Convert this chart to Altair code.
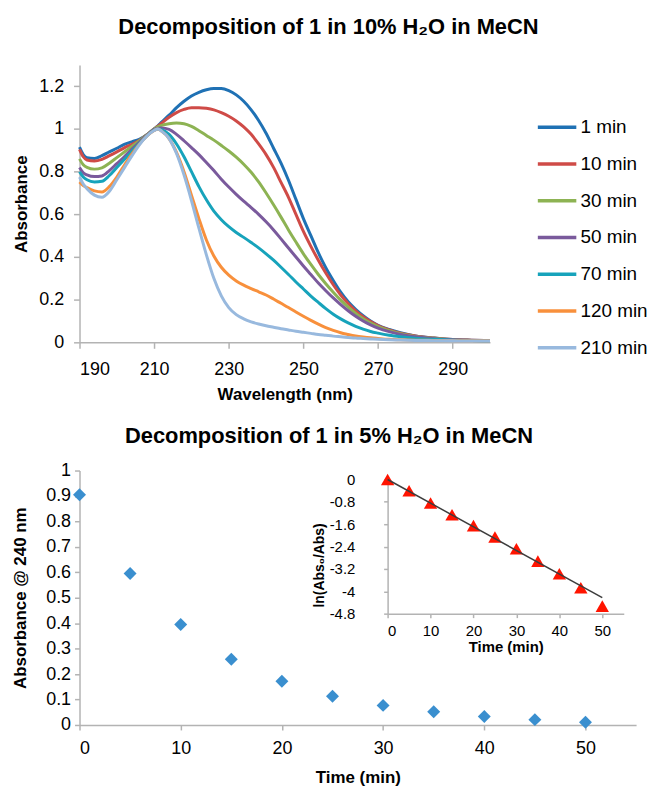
import altair as alt
import pandas as pd

FONT = "Liberation Sans"

wavelength = [190, 191, 192, 194, 196, 198, 200, 202, 204, 206, 208, 210, 211, 212, 214, 216, 218, 220,
              222, 224, 226, 228, 230, 232, 234, 236, 238, 240, 242, 244, 246, 248, 250, 252, 254, 256,
              258, 260, 262, 264, 266, 268, 270, 273, 276, 280, 285, 290, 295, 300]

abs_1min = [0.915, 0.88, 0.865, 0.862, 0.875, 0.893, 0.91, 0.928, 0.94, 0.952, 0.972, 1.0, 1.015, 1.032,
            1.065, 1.1, 1.13, 1.155, 1.172, 1.184, 1.19, 1.19, 1.18, 1.16, 1.13, 1.09, 1.04, 0.98, 0.91,
            0.84, 0.76, 0.67, 0.58, 0.5, 0.42, 0.35, 0.29, 0.235, 0.19, 0.155, 0.125, 0.1, 0.08, 0.06,
            0.045, 0.03, 0.02, 0.013, 0.01, 0.008]
abs_10min = [0.905, 0.87, 0.855, 0.85, 0.858, 0.875, 0.893, 0.912, 0.928, 0.946, 0.972, 1.0, 1.013, 1.027,
             1.055, 1.077, 1.092, 1.1, 1.1, 1.097, 1.09, 1.077, 1.06, 1.038, 1.01, 0.975, 0.93, 0.88,
             0.82, 0.75, 0.68, 0.6, 0.52, 0.45, 0.385, 0.325, 0.27, 0.222, 0.182, 0.148, 0.12, 0.097,
             0.078, 0.058, 0.043, 0.03, 0.02, 0.013, 0.01, 0.008]
abs_30min = [0.86, 0.832, 0.82, 0.812, 0.818, 0.84, 0.866, 0.892, 0.918, 0.944, 0.972, 1.0, 1.01, 1.017,
             1.025, 1.028, 1.025, 1.012, 0.992, 0.97, 0.948, 0.923, 0.897, 0.868, 0.835, 0.797, 0.752,
             0.7, 0.645, 0.587, 0.527, 0.47, 0.415, 0.365, 0.318, 0.275, 0.235, 0.198, 0.165, 0.136,
             0.111, 0.09, 0.074, 0.055, 0.041, 0.028, 0.019, 0.012, 0.009, 0.007]
abs_50min = [0.82, 0.795, 0.785, 0.777, 0.78, 0.805, 0.838, 0.87, 0.905, 0.938, 0.97, 0.998, 1.004, 1.005,
             0.998, 0.975, 0.945, 0.913, 0.88, 0.843, 0.805, 0.765, 0.728, 0.694, 0.662, 0.632, 0.6,
             0.565, 0.527, 0.485, 0.442, 0.4, 0.358, 0.318, 0.278, 0.242, 0.208, 0.177, 0.148, 0.122,
             0.1, 0.082, 0.067, 0.05, 0.037, 0.026, 0.017, 0.012, 0.009, 0.007]
abs_70min = [0.8, 0.775, 0.762, 0.752, 0.755, 0.782, 0.82, 0.857, 0.895, 0.932, 0.967, 0.995, 1.0, 0.997,
             0.975, 0.93, 0.87, 0.8, 0.73, 0.668, 0.615, 0.575, 0.542, 0.515, 0.492, 0.468, 0.443, 0.415,
             0.385, 0.352, 0.318, 0.283, 0.25, 0.217, 0.187, 0.158, 0.132, 0.11, 0.091, 0.075, 0.062,
             0.051, 0.043, 0.033, 0.026, 0.019, 0.014, 0.01, 0.008, 0.007]
abs_120min = [0.752, 0.735, 0.725, 0.71, 0.705, 0.73, 0.775, 0.83, 0.882, 0.928, 0.966, 0.993, 1.0, 0.99,
              0.955, 0.89, 0.8, 0.69, 0.58, 0.48, 0.405, 0.352, 0.315, 0.288, 0.268, 0.252, 0.237, 0.222,
              0.203, 0.183, 0.163, 0.142, 0.122, 0.103, 0.085, 0.069, 0.056, 0.045, 0.037, 0.03, 0.025,
              0.021, 0.018, 0.014, 0.012, 0.01, 0.009, 0.008, 0.007, 0.007]
abs_210min = [0.775, 0.742, 0.72, 0.69, 0.68, 0.708, 0.762, 0.818, 0.873, 0.925, 0.966, 0.993, 1.0, 0.99,
              0.955, 0.885, 0.785, 0.665, 0.535, 0.41, 0.3, 0.218, 0.163, 0.13, 0.11, 0.096, 0.086, 0.078,
              0.071, 0.064, 0.058, 0.052, 0.047, 0.042, 0.037, 0.033, 0.029, 0.026, 0.023, 0.02, 0.018,
              0.016, 0.014, 0.012, 0.011, 0.009, 0.008, 0.007, 0.006, 0.006]

series_names = ["1 min", "10 min", "30 min", "50 min", "70 min", "120 min", "210 min"]
series_values = [abs_1min, abs_10min, abs_30min, abs_50min, abs_70min, abs_120min, abs_210min]
series_colors = ["#1f71b4", "#cf4b47", "#8db353", "#7a5a9c", "#17a3bb", "#f8903c", "#98b9de"]

top_x_ticks = [190, 210, 230, 250, 270, 290]
top_y_ticks = [0, 0.2, 0.4, 0.6, 0.8, 1.0, 1.2]

time_min = [0, 5, 10, 15, 20, 25, 30, 35, 40, 45, 50]
abs_240 = [0.905, 0.595, 0.395, 0.258, 0.172, 0.113, 0.077, 0.052, 0.033, 0.021, 0.011]
ln_ratio = [0.0, -0.40, -0.84, -1.26, -1.65, -2.06, -2.48, -2.92, -3.37, -3.87, -4.53]
fit_time = [0, 50]
fit_ln = [0.0, -4.23]

bottom_x_ticks = [0, 10, 20, 30, 40, 50]
bottom_y_ticks = [0, 0.1, 0.2, 0.3, 0.4, 0.5, 0.6, 0.7, 0.8, 0.9, 1.0]
inset_y_ticks = [0, -0.8, -1.6, -2.4, -3.2, -4, -4.8]

rows = []
for name, vals in zip(series_names, series_values):
    for w, a in zip(wavelength, vals):
        rows.append({"wl": w, "absorb": a, "series": name})
spec_df = pd.DataFrame(rows)

kin_df = pd.DataFrame({"t": time_min, "a": abs_240})
ln_df = pd.DataFrame({"t": time_min, "ln": ln_ratio})
fit_df = pd.DataFrame({"t": fit_time, "ln": fit_ln})

AX = dict(domainColor="#b3b3b3", tickColor="#b3b3b3", domainWidth=1.5, tickWidth=1.5,
          labelColor="black", titleColor="black", labelFont=FONT, titleFont=FONT,
          titleFontWeight="bold", grid=False)
NOFRAME = alt.ViewBackground(stroke="transparent", strokeWidth=0)

spectra = alt.Chart(spec_df).mark_line(strokeWidth=3, interpolate="monotone").encode(
    x=alt.X("wl:Q", scale=alt.Scale(domain=[190, 300], nice=False, zero=False),
            axis=alt.Axis(values=top_x_ticks, title="Wavelength (nm)", labelFontSize=18,
                          titleFontSize=17, tickSize=6, labelPadding=12, titlePadding=9, **AX)),
    y=alt.Y("absorb:Q", scale=alt.Scale(domain=[0, 1.3], nice=False),
            axis=alt.Axis(values=top_y_ticks, format=".1~f", title="Absorbance", labelFontSize=18,
                          titleFontSize=17, tickSize=6, labelPadding=10, titlePadding=8, **AX)),
    color=alt.Color("series:N", sort=series_names,
                    scale=alt.Scale(domain=series_names, range=series_colors),
                    legend=alt.Legend(title=None, orient="none", legendX=459, legendY=41,
                                      symbolType="stroke", symbolSize=1500, symbolStrokeWidth=3.5,
                                      labelFont=FONT, labelFontSize=19, labelColor="black",
                                      rowPadding=5, labelOffset=2)),
)

top = alt.layer(spectra).properties(
    width=413, height=279, view=NOFRAME,
    title=alt.TitleParams("Decomposition of 1 in 10% H₂O in MeCN", font=FONT, fontSize=22,
                          fontWeight="bold", anchor="middle", offset=26, dx=44, color="black"),
)

scatter = alt.Chart(kin_df).mark_point(shape="diamond", filled=True, size=170, opacity=1,
                                       color="#3a8fcf").encode(
    x=alt.X("t:Q", scale=alt.Scale(domain=[0, 55], nice=False),
            axis=alt.Axis(values=bottom_x_ticks, title="Time (min)", labelFontSize=18,
                          titleFontSize=17, tickSize=5, labelPadding=10, titlePadding=12, **AX)),
    y=alt.Y("a:Q", scale=alt.Scale(domain=[0, 1], nice=False),
            axis=alt.Axis(values=bottom_y_ticks, format=".1~f", title="Absorbance @ 240 nm",
                          labelFontSize=18, titleFontSize=17, tickSize=5, labelPadding=4,
                          titlePadding=16, **AX)),
)

inset_x = alt.X("t:Q", scale=alt.Scale(domain=[0, 55], range=[310, 547.6], nice=False),
                axis=alt.Axis(values=bottom_x_ticks, title="Time (min)", orient="bottom", offset=-112,
                              labelFontSize=15, titleFontSize=15, tickSize=4, labelPadding=6,
                              titlePadding=1, **AX))
inset_y = alt.Y("ln:Q", scale=alt.Scale(domain=[-4.8, 0], range=[144, 9], nice=False),
                axis=alt.Axis(values=inset_y_ticks, title="ln(Abs₀/Abs)", orient="left", offset=-310,
                              labelExpr="'' + round(datum.value * 10) / 10",
                              labelFontSize=15, titleFontSize=14, tickSize=4, labelPadding=29,
                              titleX=-69, titleY=95, titleBaseline="middle", titleAngle=270, **AX))

fit_line = alt.Chart(fit_df).mark_line(color="#3d3d3d", strokeWidth=1.5).encode(x=inset_x, y=inset_y)
tri = alt.Chart(ln_df).mark_point(shape="triangle-up", filled=True, size=180, opacity=1,
                                  color="#ff1400").encode(x=inset_x, y=inset_y)
inset = alt.layer(tri, fit_line)

bottom = alt.layer(scatter, inset).resolve_scale(x="independent", y="independent").properties(
    width=560, height=256, view=NOFRAME,
    title=alt.TitleParams("Decomposition of 1 in 5% H₂O in MeCN", font=FONT, fontSize=22,
                          fontWeight="bold", anchor="middle", offset=14, dx=-29, color="black"),
)

chart = alt.vconcat(top, bottom, spacing=22).properties(
    padding={"left": 11, "top": 14, "right": 2, "bottom": 2}
).configure(
    background="white",
    style={"cell": {"stroke": "transparent", "strokeWidth": 0}},
).configure_view(strokeWidth=0, stroke="transparent").configure_axis(grid=False)

chart.save("out.html", embed_options={"renderer": "svg", "actions": False})
